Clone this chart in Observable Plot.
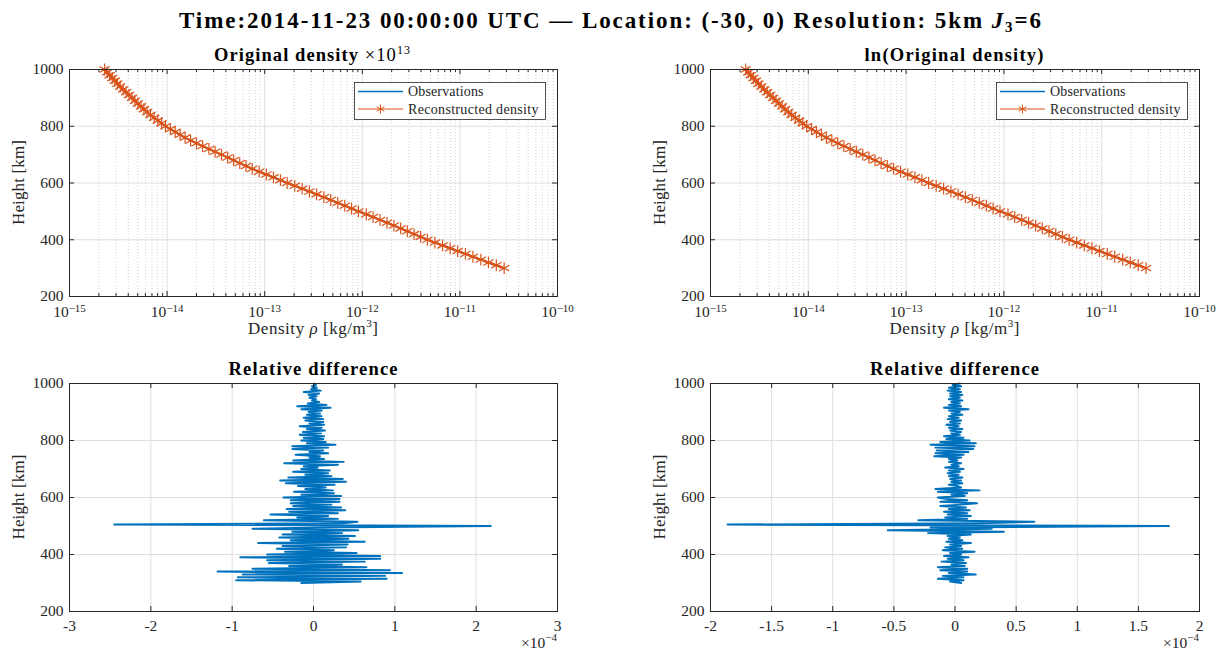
<!DOCTYPE html>
<html><head><meta charset="utf-8">
<script src="https://cdn.jsdelivr.net/npm/d3@7"></script>
<script src="https://cdn.jsdelivr.net/npm/@observablehq/plot@0.6"></script>
<style>
body{margin:0;background:#fff;}
#wrap{position:relative;width:1220px;height:652px;overflow:hidden;background:#fff;font-family:"Liberation Serif",serif;}
.panel{position:absolute;}
.panel text{font-family:"Liberation Serif",serif !important;font-size:15.5px;}
#overlay{position:absolute;left:0;top:0;pointer-events:none;}
#overlay text{font-family:"Liberation Serif",serif;}
</style></head><body><div id="wrap"></div>
<script>
// ---------------- data ----------------
const densHeights = [300,310,320,330,340,350,360,370,380,390,400,410,420,430,440,450,460,470,480,490,500,510,520,530,540,550,560,570,580,590,600,610,620,630,640,650,660,670,680,690,700,710,720,730,740,750,760,770,780,790,800,810,820,830,840,850,860,870,880,890,900,910,920,930,940,950,960,970,980,990,1000];
const density = [2.84e-11,2.36e-11,1.96e-11,1.64e-11,1.36e-11,1.14e-11,9.48e-12,7.94e-12,6.64e-12,5.55e-12,
4.65e-12,3.96e-12,3.39e-12,2.89e-12,2.47e-12,2.11e-12,1.79e-12,1.52e-12,1.29e-12,1.10e-12,
9.12e-13,7.76e-13,6.61e-13,5.60e-13,4.75e-13,4.04e-13,3.40e-13,2.87e-13,2.42e-13,2.03e-13,
1.70e-13,1.45e-13,1.23e-13,1.04e-13,8.77e-14,7.45e-14,6.43e-14,5.55e-14,4.81e-14,4.17e-14,
3.61e-14,3.10e-14,2.68e-14,2.31e-14,2.00e-14,1.74e-14,1.53e-14,1.36e-14,1.21e-14,1.08e-14,
9.62e-15,8.77e-15,8.04e-15,7.36e-15,6.76e-15,6.24e-15,5.79e-15,5.40e-15,5.01e-15,4.68e-15,
4.37e-15,4.07e-15,3.80e-15,3.55e-15,3.31e-15,3.09e-15,2.91e-15,2.74e-15,2.58e-15,2.43e-15,
2.29e-15];

const diffHeights = [300,305,310,315,320,325,330,335,340,345,350,355,360,365,370,375,380,385,390,395,
400,405,410,415,420,425,430,435,440,445,450,455,460,465,470,475,480,485,490,495,
500,505,510,515,520,525,530,535,540,545,550,555,560,565,570,575,580,585,590,595,
600,605,610,615,620,625,630,635,640,645,650,655,660,665,670,675,680,685,690,695,
700,705,710,715,720,725,730,735,740,745,750,755,760,765,770,775,780,785,790,795,
800,805,810,815,820,825,830,835,840,845,850,855,860,865,870,875,880,885,890,895,
900,905,910,915,920,925,930,935,940,945,950,955,960,965,970,975,980,985,990,995,1000];
// relative difference, in units of 1e-4
const diffLeft = [-0.15,0.58,-0.95,0.90,-0.93,0.88,-0.87,1.09,-1.18,0.94,
-0.75,0.65,-0.30,0.35,-0.55,0.63,-0.57,0.82,-0.90,0.82,
-0.57,0.53,-0.35,0.25,-0.45,0.40,-0.38,0.42,-0.68,0.63,
-0.28,0.43,-0.42,0.51,-0.38,0.35,-0.26,0.55,-0.75,0.10,
2.18,-2.45,0.37,0.54,-0.61,0.30,-0.20,0.18,-0.53,0.30,
-0.30,0.39,-0.33,0.34,-0.25,0.22,-0.28,0.32,-0.28,0.32,
-0.37,0.34,-0.15,0.25,-0.24,0.24,-0.10,0.15,-0.19,0.26,
-0.34,0.40,-0.41,0.36,-0.31,0.22,-0.10,0.18,-0.25,0.20,
-0.15,0.05,-0.12,0.30,-0.36,0.37,-0.25,0.13,-0.05,0.08,
-0.22,0.18,-0.05,0.12,-0.26,0.18,-0.26,0.27,-0.08,0.15,
-0.15,0.12,-0.12,0.13,-0.17,0.09,-0.13,0.14,-0.08,0.10,
-0.17,0.13,-0.05,0.12,-0.10,0.12,-0.12,0.10,-0.08,0.08,
-0.06,0.10,-0.15,0.21,-0.20,0.16,-0.07,0.07,-0.02,0.03,
-0.05,0.04,-0.06,0.07,-0.12,0.09,-0.03,0.04,-0.02,0.03,
0.01];
const diffRight = [0.05,-0.04,0.07,-0.14,0.07,-0.10,0.17,-0.05,0.10,-0.12,
0.10,-0.14,0.08,-0.03,0.09,-0.11,0.07,-0.06,0.11,-0.09,
0.05,-0.04,0.16,-0.10,0.06,-0.08,0.05,-0.04,0.13,-0.07,
0.06,-0.05,0.04,-0.06,0.13,-0.22,0.40,-0.55,0.30,-0.20,
1.75,-1.86,0.20,0.65,-0.30,0.10,-0.08,0.13,-0.06,0.10,
-0.09,0.12,-0.05,0.09,-0.12,0.05,0.18,-0.12,0.10,-0.07,
-0.14,0.08,-0.03,0.10,-0.14,0.20,-0.16,0.05,0.02,-0.05,
0.06,-0.03,0.05,-0.04,0.06,-0.05,0.03,-0.06,0.04,-0.05,
0.07,-0.08,0.03,-0.03,0.05,-0.05,0.02,-0.05,0.05,-0.17,
0.07,-0.16,0.11,-0.15,0.15,-0.16,0.16,-0.20,0.17,-0.12,
0.12,-0.07,0.07,-0.09,0.04,-0.03,0.05,-0.04,0.06,-0.05,
0.03,-0.07,0.04,-0.04,0.05,-0.06,0.03,-0.05,0.06,-0.03,
0.04,-0.05,0.11,-0.09,0.05,-0.05,0.04,-0.03,0.06,-0.05,
0.04,-0.04,0.06,-0.04,0.05,-0.06,0.04,-0.05,0.05,-0.02,
0.04];

const heightTicks = [200,400,600,800,1000];
const decadeTicks = [1e-15,1e-14,1e-13,1e-12,1e-11,1e-10];
const decadeExponents = ["\u221215","\u221214","\u221213","\u221212","\u221211","\u221210"];
const minorMultipliers = [2,3,4,5,6,7,8,9];
const diffTicksLeft = [-3,-2,-1,0,1,2,3];
const diffTicksRight = [-2,-1.5,-1,-0.5,0,0.5,1,1.5,2];
const legendLabels = ["Observations","Reconstructed density"];

// ---------------- style ----------------
const blue = "#0072BD", orange = "#D95319", axisColor = "#262626";
const gridColor = "#dfdfdf", minorGridColor = "#c8c8c8";
const font = '"Liberation Serif", serif';

const densRows = densHeights.map((h, i) => ({h, rho: density[i]}));
const diffRowsL = diffHeights.map((h, i) => ({h, d: diffLeft[i]}));
const diffRowsR = diffHeights.map((h, i) => ({h, d: diffRight[i]}));
const minorTicks = decadeTicks.slice(0, -1).flatMap(d => minorMultipliers.map(m => d * m));

const wrap = document.getElementById("wrap");

function place(svg, left, top) {
  svg.classList.add("panel");
  svg.style.left = left + "px";
  svg.style.top = top + "px";
  wrap.appendChild(svg);
}

function baseStyle() {
  return {fontFamily: font, fontSize: "15.5px", color: axisColor, background: "none", overflow: "visible"};
}

function densityPanel(left) {
  const W = 610, H = 340, mL = left === 0 ? 69 : 100, mR = left === 0 ? 53 : 21, mT = 69, mB = 44;
  const FW = W - mL - mR, FH = H - mT - mB;
  const svg = Plot.plot({
    width: W, height: H, marginLeft: mL, marginRight: mR, marginTop: mT, marginBottom: mB,
    x: {type: "log", domain: [1e-15, 1e-10], axis: null},
    y: {domain: [200, 1000], axis: null},
    style: baseStyle(),
    marks: [
      Plot.ruleX(minorTicks, {x: d => d, stroke: minorGridColor, strokeDasharray: "1,2", strokeWidth: 0.8}),
      Plot.ruleX(decadeTicks, {x: d => d, stroke: gridColor}),
      Plot.ruleY(heightTicks, {y: d => d, stroke: gridColor}),
      Plot.line(densRows, {x: "rho", y: "h", stroke: blue, strokeWidth: 1.5}),
      Plot.line(densRows, {x: "rho", y: "h", stroke: orange, strokeWidth: 2}),
      Plot.dot(densRows, {x: "rho", y: "h", symbol: "asterisk", stroke: orange, r: 5.6, strokeWidth: 1.2}),
      Plot.tickX(decadeTicks, {x: d => d, insetTop: FH - 5, stroke: axisColor}),
      Plot.tickX(decadeTicks, {x: d => d, insetBottom: FH - 5, stroke: axisColor}),
      Plot.tickX(minorTicks, {x: d => d, insetTop: FH - 3, stroke: axisColor}),
      Plot.tickX(minorTicks, {x: d => d, insetBottom: FH - 3, stroke: axisColor}),
      Plot.tickY(heightTicks, {y: d => d, insetRight: FW - 5, stroke: axisColor}),
      Plot.tickY(heightTicks, {y: d => d, insetLeft: FW - 5, stroke: axisColor}),
      Plot.frame({stroke: axisColor, strokeWidth: 1}),
      Plot.axisX(decadeTicks, {anchor: "bottom", tickSize: 0, tickPadding: 9, label: null,
        tickFormat: d => "10^" + decadeExponents[decadeTicks.indexOf(d)]}),
      Plot.axisY(heightTicks, {anchor: "left", tickSize: 0, tickPadding: 6, label: null, tickFormat: d => String(d)})
    ]
  });
  // LaTeX-like superscripts for the decade tick labels
  d3.select(svg).selectAll("text").each(function() {
    const s = this.textContent;
    if (s.includes("^")) {
      const [base, exp] = s.split("^");
      const el = d3.select(this);
      el.text(null);
      el.append("tspan").text(base);
      el.append("tspan").attr("dy", "-0.45em").style("font-size", "11px").text(exp);
    }
  });
  return svg;
}

function diffPanel(left, rows, ticks) {
  const W = 610, H = 312, mL = left === 0 ? 69 : 100, mR = left === 0 ? 53 : 21, mT = 43, mB = 41;
  const FW = W - mL - mR, FH = H - mT - mB;
  return Plot.plot({
    width: W, height: H, marginLeft: mL, marginRight: mR, marginTop: mT, marginBottom: mB,
    x: {domain: [ticks[0], ticks[ticks.length - 1]], axis: null},
    y: {domain: [200, 1000], axis: null},
    style: baseStyle(),
    marks: [
      Plot.ruleX(ticks, {x: d => d, stroke: gridColor}),
      Plot.ruleY(heightTicks, {y: d => d, stroke: gridColor}),
      Plot.line(rows, {x: "d", y: "h", stroke: blue, strokeWidth: 2}),
      Plot.tickX(ticks, {x: d => d, insetTop: FH - 5, stroke: axisColor}),
      Plot.tickX(ticks, {x: d => d, insetBottom: FH - 5, stroke: axisColor}),
      Plot.tickY(heightTicks, {y: d => d, insetRight: FW - 5, stroke: axisColor}),
      Plot.tickY(heightTicks, {y: d => d, insetLeft: FW - 5, stroke: axisColor}),
      Plot.frame({stroke: axisColor, strokeWidth: 1}),
      Plot.axisX(ticks, {anchor: "bottom", tickSize: 0, tickPadding: 8, label: null, tickFormat: d => String(d)}),
      Plot.axisY(heightTicks, {anchor: "left", tickSize: 0, tickPadding: 6, label: null, tickFormat: d => String(d)})
    ]
  });
}

place(densityPanel(0), 0, 0);
place(densityPanel(610), 610, 0);
place(diffPanel(0, diffRowsL, diffTicksLeft), 0, 340);
place(diffPanel(610, diffRowsR, diffTicksRight), 610, 340);

// ---------------- text overlay ----------------
const ov = d3.select(wrap).append("svg").attr("id", "overlay")
  .attr("width", 1220).attr("height", 652)
  .style("fill", "#000");

const t = ov.append("text").attr("x", 610).attr("y", 28).attr("text-anchor", "middle")
  .attr("font-size", 23).attr("font-weight", "bold")
  .attr("textLength", 862).attr("lengthAdjust", "spacing");
t.append("tspan").text("Time:2014-11-23 00:00:00 UTC \u2014 Location: (-30, 0) Resolution: 5km ");
t.append("tspan").attr("font-style", "italic").text("J");
t.append("tspan").attr("font-size", 15).attr("dy", 4).text("3");
t.append("tspan").attr("dy", -4).text("=6");

function subTitle(x, y, len, parts) {
  const e = ov.append("text").attr("x", x).attr("y", y).attr("text-anchor", "middle").attr("font-size", 18.5)
    .attr("textLength", len).attr("lengthAdjust", "spacing");
  parts(e);
}
subTitle(312, 61, 196, e => {
  e.append("tspan").attr("font-weight", "bold").text("Original density ");
  e.append("tspan").text("\u00D710");
  e.append("tspan").attr("font-size", 12).attr("dy", -7).text("13");
});
subTitle(954, 61, 179, e => e.append("tspan").attr("font-weight", "bold").text("ln(Original density)"));
subTitle(313, 375, 169, e => e.append("tspan").attr("font-weight", "bold").text("Relative difference"));
subTitle(954.5, 375, 169, e => e.append("tspan").attr("font-weight", "bold").text("Relative difference"));

[[24, 182.5], [24, 497], [665, 182.5], [665, 497]].forEach(([x, y]) => {
  ov.append("text").attr("transform", `translate(${x},${y}) rotate(-90)`).attr("text-anchor", "middle")
    .attr("font-size", 17).attr("fill", axisColor)
    .attr("textLength", 85).attr("lengthAdjust", "spacing").text("Height [km]");
});

[313, 954.5].forEach(x => {
  const e = ov.append("text").attr("x", x).attr("y", 334).attr("text-anchor", "middle").attr("font-size", 17).attr("fill", axisColor)
    .attr("textLength", 130).attr("lengthAdjust", "spacing");
  e.append("tspan").text("Density ");
  e.append("tspan").attr("font-style", "italic").text("\u03C1");
  e.append("tspan").text(" [kg/m");
  e.append("tspan").attr("font-size", 11).attr("dy", -7).text("3");
  e.append("tspan").attr("dy", 7).text("]");
});

[557, 1199].forEach(x => {
  const e = ov.append("text").attr("x", x).attr("y", 648).attr("text-anchor", "end").attr("font-size", 15.5).attr("fill", axisColor);
  e.append("tspan").text("\u00D710");
  e.append("tspan").attr("font-size", 11).attr("dy", -7).text("\u22124");
});

// legends
[354, 996].forEach(x0 => {
  const y0 = 82, w = 191, h = 37;
  const g = ov.append("g");
  g.append("rect").attr("x", x0 + 0.5).attr("y", y0 + 0.5).attr("width", w).attr("height", h)
    .attr("fill", "#fff").attr("stroke", axisColor).attr("stroke-width", 0.8);
  const rowsY = [y0 + 9.5, y0 + 27];
  g.append("line").attr("x1", x0 + 4).attr("x2", x0 + 49).attr("y1", rowsY[0]).attr("y2", rowsY[0])
    .attr("stroke", blue).attr("stroke-width", 1.5);
  g.append("line").attr("x1", x0 + 4).attr("x2", x0 + 49).attr("y1", rowsY[1]).attr("y2", rowsY[1])
    .attr("stroke", orange).attr("stroke-width", 1);
  g.append("path").attr("d", d3.symbol(d3.symbolAsterisk, 55)()).attr("transform", `translate(${x0 + 26.5},${rowsY[1]})`)
    .attr("fill", "none").attr("stroke", orange).attr("stroke-width", 1);
  const lens = [75.5, 130.5];
  legendLabels.forEach((lab, i) => {
    g.append("text").attr("x", x0 + 54).attr("y", rowsY[i] + 4.5).attr("font-size", 14).attr("fill", axisColor)
      .attr("textLength", lens[i]).attr("lengthAdjust", "spacing").text(lab);
  });
});
</script></body></html>
